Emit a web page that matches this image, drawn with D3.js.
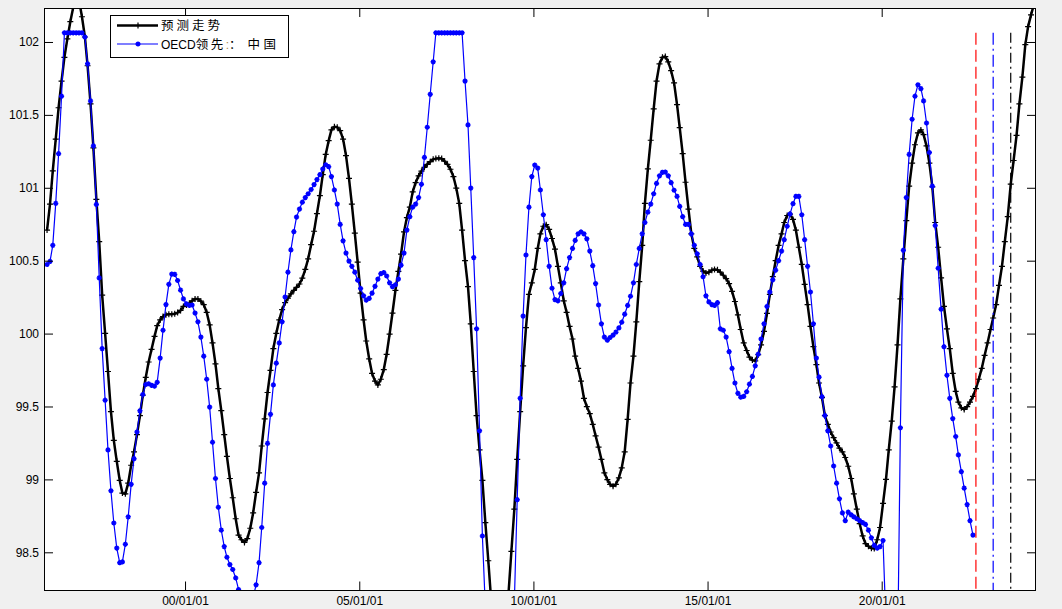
<!DOCTYPE html>
<html><head><meta charset="utf-8">
<script src="https://cdn.jsdelivr.net/npm/d3@7"></script>
<style>body{margin:0;background:#f0f0f0;overflow:hidden}svg{display:block}</style>
</head><body><svg id="c" width="1062" height="609"></svg>
<script>
// ---- data (monthly, starting January 1996) ----
const startYear = 1996;
const forecastValues = [
100.710,100.888,101.116,101.334,101.549,101.732,101.895,102.021,102.139,102.236,
102.315,102.288,102.173,102.034,101.837,101.575,101.274,100.920,100.631,100.264,
100.002,99.740,99.465,99.268,99.124,98.993,98.906,98.901,98.974,99.097,
99.189,99.307,99.438,99.577,99.700,99.805,99.892,99.981,100.054,100.094,
100.117,100.130,100.133,100.133,100.136,100.144,100.159,100.186,100.196,100.207,
100.225,100.238,100.238,100.222,100.199,100.146,100.060,99.936,99.792,99.622,
99.472,99.307,99.158,99.006,98.874,98.730,98.618,98.586,98.568,98.594,
98.665,98.770,98.911,99.045,99.229,99.415,99.596,99.748,99.897,100.002,
100.094,100.165,100.212,100.243,100.272,100.296,100.317,100.340,100.380,100.440,
100.513,100.610,100.702,100.823,100.946,101.090,101.229,101.323,101.397,101.418,
101.415,101.392,101.334,101.221,101.064,100.888,100.689,100.490,100.277,100.094,
99.949,99.826,99.727,99.674,99.648,99.687,99.753,99.858,99.997,100.141,
100.296,100.427,100.545,100.697,100.796,100.867,100.972,101.035,101.082,101.114,
101.140,101.161,101.179,101.195,101.200,101.203,101.200,101.182,101.161,101.127,
101.077,100.998,100.893,100.710,100.500,100.322,100.067,99.740,99.438,99.202,
98.993,98.704,98.442,98.17,97.92,97.75,97.68,97.72,97.92,98.22,
98.507,98.796,99.137,99.465,99.779,100.041,100.269,100.348,100.440,100.584,
100.684,100.736,100.747,100.715,100.652,100.579,100.461,100.348,100.225,100.146,
100.049,99.963,99.845,99.761,99.674,99.556,99.499,99.451,99.378,99.299,
99.221,99.137,99.045,98.998,98.966,98.953,98.966,99.011,99.079,99.189,
99.412,99.661,99.845,100.081,100.356,100.605,100.893,101.129,101.326,101.541,
101.732,101.850,101.895,101.900,101.864,101.803,101.719,101.570,101.413,101.234,
101.038,100.854,100.684,100.584,100.526,100.461,100.429,100.416,100.421,100.435,
100.440,100.437,100.421,100.400,100.377,100.343,100.290,100.220,100.128,100.028,
99.936,99.884,99.839,99.818,99.813,99.855,99.923,100.015,100.138,100.269,
100.390,100.500,100.605,100.684,100.762,100.810,100.820,100.783,100.710,100.592,
100.474,100.338,100.199,100.049,99.910,99.787,99.661,99.561,99.438,99.378,
99.325,99.286,99.250,99.215,99.189,99.150,99.090,99.006,98.901,98.796,
98.696,98.612,98.560,98.541,98.528,98.526,98.586,98.670,98.835,99.000,
99.202,99.399,99.635,99.923,100.238,100.513,100.775,101.011,101.169,101.295,
101.376,101.397,101.365,101.287,101.169,101.006,100.762,100.592,100.382,100.186,
100.033,99.897,99.727,99.603,99.530,99.491,99.480,99.499,99.530,99.569,
99.622,99.687,99.761,99.850,99.936,100.028,100.107,100.199,100.330,100.461,
100.631,100.802,101.025,101.187,101.360,101.575,101.759,101.982,102.105,102.186,102.257
];
const oecdValues = [
100.474,100.495,100.605,100.893,101.234,101.628,102.063,102.063,102.063,102.063,
102.063,102.063,102.063,102.034,101.850,101.596,101.287,100.886,100.382,99.897,
99.543,99.202,98.922,98.701,98.529,98.429,98.434,98.555,98.743,98.966,
99.142,99.325,99.470,99.582,99.651,99.656,99.645,99.640,99.666,99.832,
100.023,100.199,100.338,100.408,100.406,100.364,100.298,100.238,100.204,100.193,
100.196,100.141,100.081,99.976,99.845,99.687,99.496,99.255,99.006,98.809,
98.652,98.539,98.466,98.416,98.382,98.324,98.245,98.17,98.11,98.09,
98.12,98.19,98.277,98.429,98.670,98.974,99.247,99.446,99.648,99.797,
99.936,100.081,100.251,100.421,100.574,100.699,100.799,100.854,100.901,100.933,
100.959,100.988,101.022,101.056,101.090,101.129,101.158,101.145,101.077,100.985,
100.888,100.749,100.636,100.552,100.497,100.461,100.421,100.366,100.309,100.259,
100.230,100.241,100.277,100.324,100.374,100.411,100.419,100.395,100.348,100.322,
100.335,100.374,100.469,100.552,100.710,100.802,100.867,100.888,100.933,101.024,
101.208,101.415,101.641,101.864,102.063,102.063,102.063,102.063,102.063,102.063,
102.063,102.063,102.063,102.063,101.732,101.431,100.998,100.521,100.033,99.333,
98.612,98.12,97.75,97.4,97.15,97.0,96.98,97.1,97.35,97.65,
97.92,98.16,98.861,99.556,100.120,100.539,100.867,101.077,101.156,101.135,
100.985,100.815,100.644,100.461,100.311,100.233,100.225,100.275,100.348,100.445,
100.521,100.584,100.639,100.684,100.697,100.684,100.650,100.566,100.466,100.343,
100.196,100.067,99.976,99.955,99.973,99.989,100.010,100.039,100.078,100.133,
100.193,100.256,100.348,100.474,100.584,100.684,100.762,100.833,100.888,100.959,
101.030,101.082,101.106,101.108,101.082,101.035,100.983,100.941,100.872,100.802,
100.749,100.749,100.684,100.605,100.547,100.474,100.390,100.259,100.217,100.199,
100.193,100.212,100.033,100.023,99.976,99.876,99.761,99.661,99.590,99.564,
99.569,99.601,99.653,99.706,99.779,99.858,99.963,100.067,100.186,100.285,
100.369,100.435,100.500,100.566,100.644,100.736,100.820,100.891,100.941,100.941,
100.815,100.644,100.461,100.285,100.067,99.832,99.701,99.567,99.438,99.333,
99.229,99.092,98.974,98.867,98.770,98.717,98.775,98.757,98.743,98.730,
98.717,98.704,98.691,98.652,98.599,98.547,98.529,98.539,98.581,98.0,
97.4,97.2,97.35,97.75,99.354,100.571,100.933,101.229,101.470,101.628,
101.706,101.680,101.596,101.444,101.242,101.011,100.741,100.448,100.167,99.910,
99.714,99.556,99.417,99.294,99.168,99.053,98.940,98.827,98.717,98.618
];
const seriesNames = ["预测走势", "OECD领先"];
const legendSuffix = ["：", "中国"];
const yTicks = [98.5, 99, 99.5, 100, 100.5, 101, 101.5, 102];
const xTickYears = [2000, 2005, 2010, 2015, 2020];
const markerLineDates = [[2022, 8, 15], [2023, 2, 15], [2023, 8, 15]];
const markerLineColors = ["#ff0000", "#0000ff", "#000000"];
const markerLineDash = ["12,5", "12,4,2,4", "10,4,2,4"];

// ---- build series ----
const toSeries = vals => vals.map((v, i) => ({date: new Date(startYear, i, 15), value: v}));
const black = toSeries(forecastValues);
const blue = toSeries(oecdValues);

const L = 44, R = 1036, T = 8, B = 590.5;
const x = d3.scaleTime().domain([new Date(1995, 11, 14), new Date(2024, 5, 6)]).range([L, R]);
const y = d3.scaleLinear().domain([98.238, 102.233]).range([B, T]);

const svg = d3.select("#c");
svg.append("rect").attr("width", 1062).attr("height", 609).attr("fill", "#f0f0f0");
svg.append("rect").attr("x", L).attr("y", T).attr("width", R - L).attr("height", B - T).attr("fill", "#fff");

svg.append("defs").append("clipPath").attr("id", "clip")
  .append("rect").attr("x", L).attr("y", T).attr("width", R - L).attr("height", B - T);

const plot = svg.append("g").attr("clip-path", "url(#clip)");
const line = d3.line().x(d => x(d.date)).y(d => y(d.value));

// black forecast
plot.append("path").datum(black).attr("d", line).attr("fill", "none")
  .attr("stroke", "#000").attr("stroke-width", 2.5).attr("stroke-linejoin", "round");
plot.append("g").selectAll("path").data(black).join("path")
  .attr("transform", d => `translate(${x(d.date)},${y(d.value)})`)
  .attr("d", "M-3,0H3M0,-3V3").attr("stroke", "#000").attr("stroke-width", 1.2);

// blue OECD
plot.append("path").datum(blue).attr("d", line).attr("fill", "none")
  .attr("stroke", "#0000ff").attr("stroke-width", 1.2);
plot.append("g").selectAll("path").data(blue).join("path")
  .attr("transform", d => `translate(${x(d.date)},${y(d.value)})`)
  .attr("d", "M-2.6,0H2.6M0,-2.6V2.6M-1.8,-1.8L1.8,1.8M-1.8,1.8L1.8,-1.8")
  .attr("stroke", "#0000ff").attr("stroke-width", 1.5);

// vertical marker lines
const vTop = d3.max(oecdValues), vBot = d3.min(oecdValues);
markerLineDates.forEach((d, i) => {
  const dt = new Date(d[0], d[1], d[2]);
  plot.append("line").attr("x1", x(dt)).attr("x2", x(dt))
    .attr("y1", y(vTop)).attr("y2", y(vBot))
    .attr("stroke", markerLineColors[i]).attr("stroke-width", 1.2)
    .attr("stroke-dasharray", markerLineDash[i]);
});

// axes
const font = "'Liberation Sans', Arial, Helvetica, sans-serif";
const tickDates = xTickYears.map(yr => new Date(yr, 0, 1));
const styleAxis = g => {
  g.select(".domain").remove();
  g.selectAll("line").attr("stroke", "#000");
  g.selectAll("text").attr("font-family", font).attr("font-size", 12).attr("fill", "#000");
};
svg.append("g").attr("transform", `translate(${L},0)`)
  .call(d3.axisLeft(y).tickValues(yTicks).tickSize(-9).tickSizeOuter(0).tickPadding(5).tickFormat(d3.format("")))
  .call(styleAxis);
svg.append("g").attr("transform", `translate(${R},0)`)
  .call(d3.axisRight(y).tickValues(yTicks).tickSize(-9).tickSizeOuter(0).tickFormat(""))
  .call(styleAxis);
svg.append("g").attr("transform", `translate(0,${B})`)
  .call(d3.axisBottom(x).tickValues(tickDates).tickSize(-9).tickSizeOuter(0).tickPadding(6).tickFormat(d3.timeFormat("%y/%m/%d")))
  .call(styleAxis);
svg.append("g").attr("transform", `translate(0,${T})`)
  .call(d3.axisTop(x).tickValues(tickDates).tickSize(-9).tickSizeOuter(0).tickFormat(""))
  .call(styleAxis);
svg.append("rect").attr("x", L + 0.5).attr("y", T + 0.5).attr("width", R - L - 1).attr("height", B - T - 0.5)
  .attr("fill", "none").attr("stroke", "#000").attr("stroke-width", 1);

// legend
const lg = svg.append("g");
lg.append("rect").attr("x", 110.5).attr("y", 15.5).attr("width", 178).attr("height", 42)
  .attr("fill", "#fff").attr("stroke", "#000");
const rows = [25.5, 44];
lg.append("line").attr("x1", 117).attr("x2", 158).attr("y1", rows[0]).attr("y2", rows[0])
  .attr("stroke", "#000").attr("stroke-width", 2.5);
lg.append("path").attr("transform", `translate(138,${rows[0]})`).attr("d", "M-3,0H3M0,-3V3")
  .attr("stroke", "#000").attr("stroke-width", 1.2);
lg.append("line").attr("x1", 117).attr("x2", 158).attr("y1", rows[1]).attr("y2", rows[1])
  .attr("stroke", "#0000ff").attr("stroke-width", 1.2);
lg.append("path").attr("transform", `translate(138,${rows[1]})`)
  .attr("d", "M-2.6,0H2.6M0,-2.6V2.6M-1.8,-1.8L1.8,1.8M-1.8,1.8L1.8,-1.8")
  .attr("stroke", "#0000ff").attr("stroke-width", 1.5);
const cjk = "'Noto Sans CJK SC', sans-serif";
lg.append("text").attr("x", 161).attr("y", rows[0] + 4.8)
  .attr("font-family", cjk).attr("font-size", 12.5).attr("letter-spacing", 3).text(seriesNames[0]);
const t2 = lg.append("text").attr("x", 161).attr("y", rows[1] + 4.8);
t2.append("tspan").attr("font-family", font).attr("font-size", 12).text(seriesNames[1].slice(0, 4));
t2.append("tspan").attr("font-family", cjk).attr("font-size", 12.5).attr("letter-spacing", 2.5).text(seriesNames[1].slice(4));
t2.append("tspan").attr("font-family", font).attr("font-size", 12).attr("fill", "#b08a50").text(":");
t2.append("tspan").attr("font-family", cjk).attr("font-size", 12.5).text(legendSuffix[0]);
t2.append("tspan").attr("font-family", cjk).attr("font-size", 12.5).attr("dx", 6).attr("letter-spacing", 3.5).text(legendSuffix[1]);
</script>
</body></html>
